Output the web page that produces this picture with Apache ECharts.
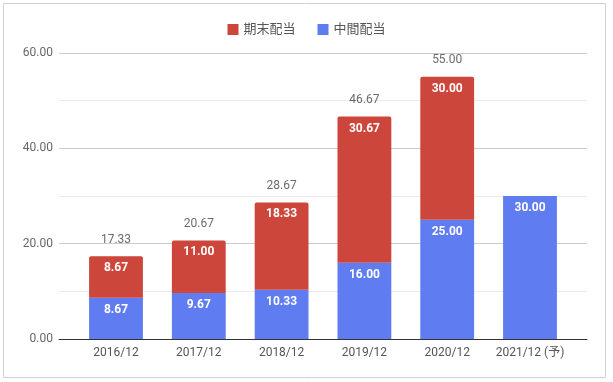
<!DOCTYPE html>
<html>
<head>
<meta charset="utf-8">
<script src="https://cdn.jsdelivr.net/npm/echarts@6/dist/echarts.min.js"></script>
<style>html,body{margin:0;padding:0;background:#fff}#c{width:613px;height:382px}</style>
</head>
<body>
<div id="c"></div>
<script>
var categories = ['2016/12', '2017/12', '2018/12', '2019/12', '2020/12', '2021/12 (予)'];
var interim = [8.67, 9.67, 10.33, 16.00, 25.00, 30.00];
var yearEnd = [8.67, 11.00, 18.33, 30.67, 30.00, null];
var totals = [17.33, 20.67, 28.67, 46.67, 55.00, null];
var yTicks = [0, 20, 40, 60];

var FONT = 'Roboto, "Noto Sans CJK JP", sans-serif';
var chart = echarts.init(document.getElementById('c'), null, {renderer: 'canvas'});
var fmt = function (p) { var v = Array.isArray(p.value) ? p.value[1] : p.value; return (v == null) ? '' : Number(v).toFixed(2); };

chart.setOption({
  animation: false,
  textStyle: {fontFamily: FONT},
  graphic: [{
    type: 'rect', silent: true, z: -10,
    shape: {x: 3.5, y: 3.5, width: 602, height: 374},
    style: {fill: 'none', stroke: '#d0d0d0', lineWidth: 1}
  }],
  legend: {
    top: 18, left: 'center',
    itemWidth: 11, itemHeight: 11, itemGap: 22,
    icon: 'rect',
    textStyle: {color: '#555', fontSize: 13, fontFamily: FONT},
    data: ['期末配当', '中間配当']
  },
  grid: [
    {left: 59, right: 26, top: 53, bottom: 43},
    {left: 74.6, right: 41.6, top: 53, bottom: 43}
  ],
  xAxis: [
    {type: 'value', gridIndex: 0, min: 0, max: 1, axisLabel: {show: false}, axisTick: {show: false},
     splitLine: {show: false}, axisLine: {show: true, onZero: false, lineStyle: {color: '#333', width: 1}}},
    {type: 'category', gridIndex: 1, data: categories, axisLine: {show: false}, axisTick: {show: false},
     axisLabel: {color: '#555', fontSize: 12, margin: 8, interval: 0, fontFamily: FONT}}
  ],
  yAxis: [
    {type: 'value', gridIndex: 0, min: yTicks[0], max: yTicks[yTicks.length - 1], interval: 20,
     axisLine: {show: false}, axisTick: {show: false},
     axisLabel: {color: '#666', fontSize: 12, margin: 6, fontFamily: FONT, formatter: function (v) { return v.toFixed(2); }},
     splitLine: {show: true, lineStyle: {color: '#cccccc', width: 1}},
     minorTick: {show: false, splitNumber: 2},
     minorSplitLine: {show: true, lineStyle: {color: '#ebebeb', width: 1}}},
    {type: 'value', gridIndex: 1, min: 0, max: 60, show: false, splitLine: {show: false}}
  ],
  series: [
    {
      name: '中間配当', type: 'bar', stack: 'div', xAxisIndex: 1, yAxisIndex: 1,
      data: interim, barWidth: '65%',
      itemStyle: {color: '#5f7cf0'},
      label: {show: true, position: 'insideTop', distance: 6, color: '#fff', fontWeight: 'bold', fontSize: 12, fontFamily: FONT, formatter: fmt}
    },
    {
      name: '期末配当', type: 'bar', stack: 'div', xAxisIndex: 1, yAxisIndex: 1,
      data: yearEnd, barWidth: '65%',
      itemStyle: {color: '#cc463b', borderRadius: [2, 2, 0, 0]},
      label: {show: true, position: 'insideTop', distance: 6, color: '#fff', fontWeight: 'bold', fontSize: 12, fontFamily: FONT, formatter: fmt}
    },
    {
      name: 'total', type: 'scatter', xAxisIndex: 1, yAxisIndex: 1,
      data: totals, symbol: 'circle', symbolSize: 1,
      itemStyle: {color: 'rgba(255,255,255,0)'}, silent: true, z: 5,
      label: {show: true, position: 'top', distance: 10, color: '#444', fontSize: 12, fontFamily: FONT, formatter: fmt}
    }
  ]
});
</script>
</body>
</html>
